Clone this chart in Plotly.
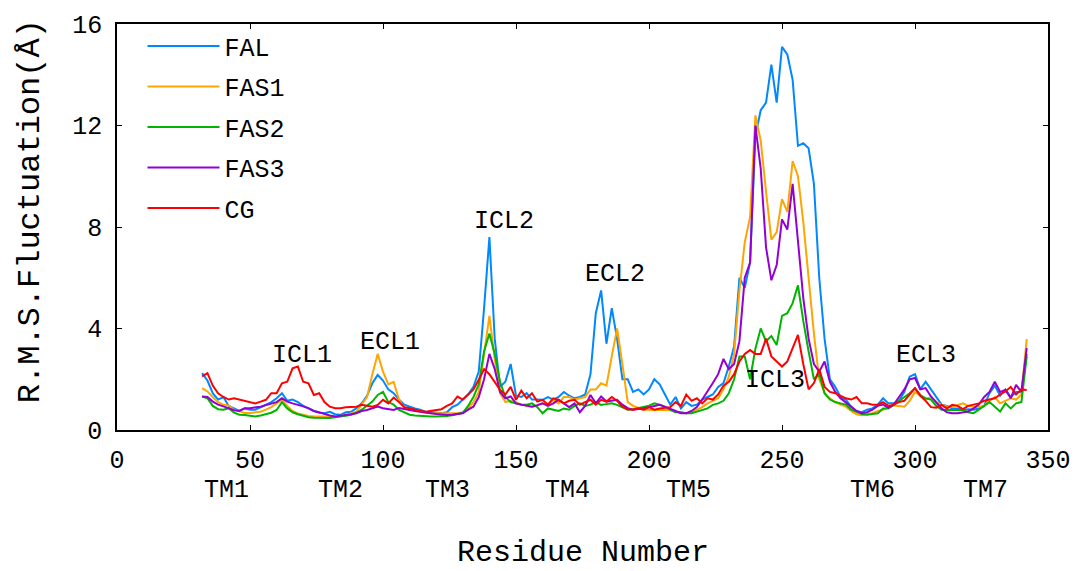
import plotly.graph_objects as go

# residue numbers (every 2nd residue)
residue = list(range(32, 343, 2))

fal = [2.24, 1.95, 1.45, 1.2, 1.3, 0.95, 0.85, 0.75, 0.85, 0.8,
       0.8, 0.9, 1.0, 1.1, 1.25, 1.45, 1.15, 1.2, 1.1, 0.95,
       0.86, 0.75, 0.68, 0.66, 0.72, 0.62, 0.6, 0.7, 0.72, 0.86,
       1.05, 1.35, 1.84, 2.17, 1.95, 1.6, 1.45, 1.2, 1.0, 0.92,
       0.85, 0.8, 0.72, 0.7, 0.68, 0.66, 0.7, 0.9, 1.0, 1.2,
       1.4, 1.7, 2.3, 4.8, 7.6, 3.6, 1.7, 1.9, 2.6, 1.35,
       1.3, 1.45, 1.2, 1.2, 1.19, 1.3, 1.2, 1.3, 1.5, 1.35,
       1.25, 1.3, 1.4, 2.2, 4.6, 5.5, 3.4, 4.8, 3.6, 2.0,
       2.0, 1.5, 1.6, 1.4, 1.6, 2.0, 1.8, 1.4, 1.0, 1.3,
       0.85, 1.1, 0.95, 1.0, 1.2, 1.3, 1.4, 1.7, 1.85, 2.5,
       3.3, 6.0, 5.6, 6.6, 11.6, 12.6, 12.9, 14.4, 12.9, 15.1,
       14.8, 13.8, 11.2, 11.3, 11.1, 9.7, 6.0, 3.6, 2.0, 1.7,
       1.3, 1.2, 0.9, 0.75, 0.7, 0.8, 0.85, 1.0, 1.25, 1.05,
       1.05, 1.15, 1.5, 2.1, 2.2, 1.6, 1.9, 1.6, 1.3, 1.0,
       0.95, 0.85, 0.85, 0.8, 0.82, 0.8, 0.85, 0.95, 1.45, 1.75,
       1.35, 1.6, 1.3, 1.5, 1.5, 3.0]

fas1 = [1.65, 1.52, 1.3, 1.1, 1.0, 0.97, 0.8, 0.73, 0.67, 0.67,
        0.69, 0.72, 0.8, 0.9, 1.05, 1.19, 0.95, 0.75, 0.65, 0.59,
        0.55, 0.53, 0.53, 0.53, 0.52, 0.53, 0.55, 0.59, 0.65, 0.72,
        0.99, 1.3, 2.2, 3.0, 2.3, 1.8, 1.9, 1.2, 0.85, 0.8,
        0.75, 0.7, 0.68, 0.66, 0.66, 0.66, 0.65, 0.66, 0.66, 0.7,
        0.85, 1.1, 1.5, 3.0, 4.5, 2.8, 1.45, 1.1, 1.15, 1.1,
        1.0, 0.95, 0.92, 0.95, 1.05, 1.0, 1.19, 1.05, 1.3, 1.3,
        1.2, 1.25, 1.3, 1.6, 1.6, 1.84, 1.75, 2.9, 4.0, 2.6,
        1.1, 0.95, 0.86, 0.8, 0.8, 0.78, 0.8, 0.8, 0.78, 0.72,
        0.7, 0.66, 0.7, 0.79, 0.9, 1.05, 1.15, 1.25, 1.6, 2.1,
        3.0, 5.5, 7.4, 8.4, 12.4, 11.4, 9.4, 7.5, 7.8, 9.1,
        8.6, 10.6, 10.0, 8.2, 6.0, 3.8, 2.0, 1.45, 1.25, 1.1,
        1.0, 0.92, 0.75, 0.62, 0.58, 0.62, 0.66, 0.75, 0.8, 0.9,
        0.97, 0.95, 0.92, 1.15, 1.5, 1.35, 1.2, 1.3, 1.1, 0.99,
        0.93, 0.92, 0.98, 1.05, 0.95, 0.92, 0.92, 0.95, 1.15, 1.3,
        1.05, 1.15, 1.25, 1.2, 1.4, 3.58]

fas2 = [1.32, 1.25, 0.95, 0.82, 0.8, 0.86, 0.68, 0.6, 0.59, 0.57,
        0.53, 0.57, 0.62, 0.68, 0.79, 1.1, 0.85, 0.7, 0.62, 0.55,
        0.5, 0.48, 0.47, 0.46, 0.47, 0.5, 0.52, 0.56, 0.6, 0.68,
        0.8, 0.95, 1.12, 1.38, 1.5, 1.1, 1.0, 0.79, 0.68, 0.6,
        0.57, 0.55, 0.53, 0.53, 0.53, 0.53, 0.55, 0.58, 0.62, 0.68,
        0.95, 1.3, 1.8, 3.1, 3.8, 3.0, 1.9, 1.3, 1.1, 1.05,
        1.0, 1.0, 1.05, 0.9, 0.66, 0.85, 0.79, 0.75, 0.85, 0.8,
        0.95, 1.05, 0.95, 1.0, 1.1, 0.99, 1.02, 1.05, 0.99, 0.88,
        0.8, 0.82, 0.86, 0.9, 0.96, 1.05, 1.0, 0.9, 0.8, 0.7,
        0.7, 0.66, 0.66, 0.72, 0.79, 0.85, 0.99, 1.05, 1.15, 1.45,
        2.0, 2.9, 2.9, 2.0, 3.2, 4.0, 3.5, 3.7, 3.35, 4.5,
        4.6, 5.0, 5.7, 4.3, 3.1, 2.0, 2.2, 1.45, 1.2, 1.1,
        1.05, 1.0, 0.8, 0.7, 0.63, 0.6, 0.63, 0.66, 0.85, 0.85,
        0.99, 1.15, 1.3, 1.45, 1.65, 1.38, 1.25, 1.2, 0.95, 0.8,
        0.79, 0.79, 0.8, 0.79, 0.7, 0.66, 0.8, 0.95, 1.1, 0.92,
        0.73, 1.05, 0.85, 1.05, 1.1, 2.9]

fas3 = [1.32, 1.3, 1.12, 1.0, 0.93, 0.85, 0.78, 0.75, 0.86, 0.86,
        0.88, 0.92, 0.98, 1.05, 1.1, 1.25, 1.12, 1.05, 1.0, 0.93,
        0.85, 0.75, 0.7, 0.62, 0.57, 0.53, 0.55, 0.59, 0.62, 0.66,
        0.75, 0.79, 0.85, 0.92, 0.86, 0.82, 0.79, 0.87, 0.82, 0.79,
        0.75, 0.72, 0.68, 0.66, 0.63, 0.6, 0.59, 0.6, 0.63, 0.66,
        0.8, 0.92, 1.3, 2.0, 3.0, 2.4, 1.5, 1.25, 1.32, 1.05,
        1.0, 0.95, 0.92, 0.98, 1.05, 0.95, 1.05, 1.19, 1.05, 0.9,
        1.05, 0.7, 0.95, 1.38, 1.05, 1.32, 1.12, 1.15, 1.19, 1.0,
        0.86, 0.8, 0.82, 0.86, 0.9, 0.96, 0.99, 0.92, 0.82, 0.75,
        0.66, 0.66, 0.75, 0.9, 1.2, 1.5, 1.85, 2.2, 2.8, 2.4,
        2.6, 3.5, 6.0, 6.6, 12.0, 10.3, 7.2, 5.9, 6.5, 8.3,
        7.9, 9.7, 7.3, 5.2, 3.6, 2.6, 2.3, 2.7, 1.9, 1.5,
        1.25, 1.1, 0.92, 0.75, 0.66, 0.7, 0.8, 0.95, 1.0, 0.88,
        1.0, 1.3, 1.6, 2.0, 2.05, 1.6, 1.65, 1.32, 1.1, 0.85,
        0.7, 0.66, 0.66, 0.7, 0.73, 0.85, 1.0, 1.3, 1.5, 1.9,
        1.5, 1.58, 1.25, 1.78, 1.5, 3.23]

cg = [2.11, 2.24, 1.75, 1.45, 1.3, 1.2, 1.25, 1.2, 1.15, 1.08,
      1.05, 1.12, 1.19, 1.45, 1.45, 1.84, 1.9, 2.43, 2.5, 1.9,
      1.84, 1.38, 1.45, 1.1, 0.92, 0.86, 0.86, 0.9, 0.92, 0.92,
      0.99, 0.95, 0.92, 0.99, 1.19, 1.05, 1.28, 1.1, 0.9, 0.86,
      0.8, 0.75, 0.72, 0.75, 0.78, 0.82, 0.95, 1.05, 1.32, 1.2,
      1.4, 1.6, 1.98, 2.4, 2.2, 1.9, 1.58, 1.4, 1.7, 1.19,
      1.55, 1.25, 1.45, 1.12, 1.19, 1.0, 1.25, 1.19, 1.05, 1.15,
      1.19, 1.0, 1.1, 1.19, 1.0, 1.19, 1.12, 1.3, 1.15, 0.92,
      0.82, 0.8, 0.85, 0.8, 0.9, 0.8, 0.85, 0.88, 0.9, 1.1,
      0.95, 1.4, 1.15, 1.25, 1.05, 1.25, 1.2, 1.4, 1.75, 1.9,
      2.2, 2.7, 3.0, 3.15, 3.0, 3.0, 3.6, 2.9, 2.7, 2.5,
      2.7, 3.2, 3.75, 2.6, 1.6, 1.85, 2.4, 1.7, 1.5, 1.45,
      1.35, 1.25, 1.2, 1.3, 1.05, 1.05, 1.0, 1.0, 1.1, 0.95,
      1.0, 1.1, 1.15, 1.38, 1.65, 1.35, 1.15, 0.9, 0.88, 0.99,
      0.85, 0.99, 0.95, 0.82, 0.95, 1.0, 1.05, 1.15, 1.2, 1.25,
      1.4, 1.52, 1.7, 1.4, 1.6, 1.58]

series_names = ["FAL", "FAS1", "FAS2", "FAS3", "CG"]
series_values = [fal, fas1, fas2, fas3, cg]
series_colors = ["rgb(0,136,255)", "rgb(255,165,0)", "rgb(0,180,0)",
                 "rgb(148,0,211)", "rgb(255,0,0)"]

# loop region labels: (text, residue, value)
loop_labels = [("ICL1", 69.4, 2.94), ("ECL1", 102.8, 3.46), ("ICL2", 145.5, 8.22),
               ("ECL2", 187.2, 6.14), ("ICL3", 247.4, 1.94), ("ECL3", 304.1, 2.93)]
# transmembrane helix labels below the axis
tm_labels = [("TM1", 41), ("TM2", 84.2), ("TM3", 124.1), ("TM4", 169.2),
             ("TM5", 215), ("TM6", 284), ("TM7", 326.6)]

FONT = "Liberation Mono, Courier New, monospace"

fig = go.Figure()
for name, vals, col in zip(series_names, series_values, series_colors):
    assert len(vals) == len(residue), name
    fig.add_trace(go.Scatter(x=residue, y=vals, mode="lines", name=name,
                             legendgroup=name,
                             line=dict(color=col, width=2)))

for txt, rx, vy in loop_labels:
    fig.add_annotation(x=rx, y=vy, xref="x", yref="y", text=txt, showarrow=False,
                       font=dict(family=FONT, size=25, color="black"))

for txt, rx in tm_labels:
    fig.add_annotation(x=rx, y=-0.148, xref="x", yref="paper", text=txt,
                       showarrow=False, yanchor="middle",
                       font=dict(family=FONT, size=25, color="black"))

fig.add_annotation(x=0.5, y=-0.303, xref="paper", yref="paper", text="Residue Number",
                   showarrow=False, yanchor="middle",
                   font=dict(family=FONT, size=30, color="black"))
fig.add_annotation(x=-0.0934, y=0.539, xref="paper", yref="paper",
                   text="R.M.S.Fluctuation(Å)", textangle=-90, showarrow=False,
                   xanchor="center", yanchor="middle",
                   font=dict(family=FONT, size=32, color="black"))

axis_style = dict(showgrid=False, zeroline=False, showline=True, linecolor="black",
                  linewidth=1.5, mirror="ticks", ticks="inside", ticklen=5,
                  tickcolor="black", tickwidth=1.2,
                  tickfont=dict(family=FONT, size=25, color="black"))

fig.update_xaxes(range=[0, 350], tickvals=[0, 50, 100, 150, 200, 250, 300, 350],
                 ticklabelstandoff=6, **axis_style)
fig.update_yaxes(range=[0, 16], tickvals=[0, 4, 8, 12, 16],
                 ticklabelstandoff=8, **axis_style)

fig.update_layout(
    width=1082, height=571,
    margin=dict(l=117, r=34, t=24, b=141),
    plot_bgcolor="white", paper_bgcolor="white",
    font=dict(family=FONT, size=25, color="black"),
    legend=dict(x=0.0274, y=1.002, xanchor="left", yanchor="top",
                bgcolor="rgba(0,0,0,0)", itemwidth=72, traceorder="grouped",
                tracegroupgap=5, font=dict(family=FONT, size=25)),
)

fig.write_html("out.html", config={"displayModeBar": False},
               post_script="document.body.style.margin='0';")
